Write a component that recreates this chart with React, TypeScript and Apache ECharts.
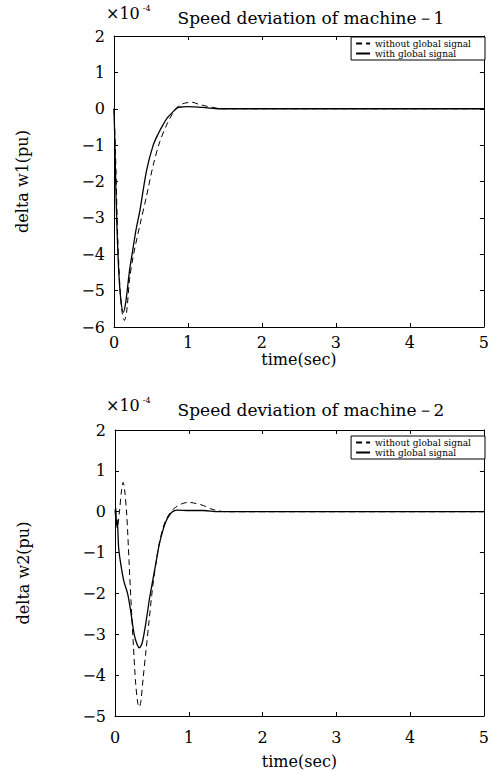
import React, { useEffect, useRef } from "react";
import * as echarts from "echarts";

// Machine 1 (top chart)
const t1Without = [0, 0.02, 0.05, 0.08, 0.11, 0.14, 0.17, 0.21, 0.26, 0.35, 0.44, 0.53, 0.62, 0.71, 0.79, 0.88, 0.97, 1.05, 1.15, 1.25, 1.33, 1.45, 2, 3, 4, 5];
const w1Without = [0, -1.2, -3.5, -4.9, -5.6, -5.82, -5.6, -4.7, -4.05, -3.2, -2.4, -1.55, -0.9, -0.45, -0.14, 0.09, 0.16, 0.18, 0.12, 0.07, 0.04, 0, 0, 0, 0, 0];
const t1With = [0, 0.01, 0.03, 0.06, 0.09, 0.125, 0.16, 0.21, 0.26, 0.3, 0.35, 0.44, 0.53, 0.6, 0.66, 0.72, 0.79, 0.86, 0.93, 1.0, 1.1, 1.2, 1.3, 1.4, 2, 3, 4, 5];
const w1With = [0, -0.8, -2.6, -4.3, -5.2, -5.6, -5.3, -4.45, -3.8, -3.3, -2.8, -1.7, -1.0, -0.68, -0.45, -0.25, -0.1, 0.03, 0.05, 0.06, 0.05, 0.04, 0.02, 0, 0, 0, 0, 0];

// Machine 2 (bottom chart)
const t2Without = [0, 0.03, 0.06, 0.09, 0.11, 0.13, 0.16, 0.19, 0.22, 0.25, 0.28, 0.31, 0.33, 0.35, 0.38, 0.42, 0.46, 0.51, 0.56, 0.6, 0.65, 0.69, 0.75, 0.8, 0.9, 1.0, 1.1, 1.2, 1.3, 1.4, 1.5, 2, 3, 4, 5];
const w2Without = [0, -0.4, 0, 0.55, 0.72, 0.55, -0.1, -1.2, -2.3, -3.3, -4.2, -4.7, -4.78, -4.65, -4.1, -3.4, -2.7, -1.85, -1.2, -0.77, -0.4, -0.2, -0.02, 0.08, 0.19, 0.23, 0.2, 0.15, 0.07, 0.02, 0, 0, 0, 0, 0];
const t2With = [0, 0.01, 0.02, 0.03, 0.05, 0.08, 0.12, 0.17, 0.21, 0.26, 0.3, 0.33, 0.37, 0.42, 0.47, 0.51, 0.56, 0.6, 0.65, 0.69, 0.75, 0.8, 0.84, 1.0, 1.2, 1.4, 2, 3, 4, 5];
const w2With = [0, 0.1, -0.3, -0.2, -0.9, -1.3, -1.7, -2.0, -2.4, -3.0, -3.25, -3.33, -3.2, -2.7, -2.1, -1.7, -1.2, -0.8, -0.45, -0.24, -0.05, 0.02, 0.04, 0.03, 0.03, 0, 0, 0, 0, 0];

const xTicks = [0, 1, 2, 3, 4, 5];
const titles = ["Speed deviation of machine\uFF0D1", "Speed deviation of machine\uFF0D2"];
const yNames = ["delta w1(pu)", "delta w2(pu)"];
const seriesNames = ["without global signal", "with global signal"];

const FONT = "DejaVu Serif";

const zip = (xs: number[], ys: number[]) => xs.map((x, i) => [x, ys[i]]);
const fmt = (v: number) => (v < 0 ? "\u2212" + Math.abs(v) : String(v));

export default function App() {
  const ref = useRef<HTMLDivElement>(null);
  useEffect(() => {
    if (!ref.current) return;
    const chart = echarts.init(ref.current, null, { renderer: "svg" });
    const grids = [
      { left: 114, right: 6, top: 36, height: 291 },
      { left: 115, right: 6, top: 430, height: 287 },
    ];
    const yRanges = [
      [-6, 2],
      [-5, 2],
    ];
    const xLabelMargin = [7, 13];
    const xNameGap = [24, 37];
    const xAxes: any[] = [];
    const yAxes: any[] = [];
    const lineS = { show: true, onZero: false, lineStyle: { color: "#000", width: 1 } };
    const tickS = { show: true, inside: true, length: 4, lineStyle: { color: "#000" } };
    grids.forEach((_, g) => {
      xAxes.push({
        type: "value",
        gridIndex: g,
        min: xTicks[0],
        max: xTicks[xTicks.length - 1],
        interval: 1,
        name: "time(sec)",
        nameLocation: "middle",
        nameGap: xNameGap[g],
        nameTextStyle: { fontFamily: FONT, fontSize: 16, color: "#000" },
        axisLine: lineS,
        axisTick: tickS,
        axisLabel: { fontFamily: FONT, fontSize: 16, color: "#000", margin: xLabelMargin[g] },
        splitLine: { show: false },
      });
      xAxes.push({
        type: "value",
        gridIndex: g,
        position: "top",
        min: xTicks[0],
        max: xTicks[xTicks.length - 1],
        interval: 1,
        axisLine: lineS,
        axisTick: tickS,
        axisLabel: { show: false },
        splitLine: { show: false },
      });
      yAxes.push({
        type: "value",
        gridIndex: g,
        min: yRanges[g][0],
        max: yRanges[g][1],
        interval: 1,
        name: yNames[g],
        nameLocation: "middle",
        nameGap: 84,
        nameRotate: 90,
        nameTextStyle: { fontFamily: FONT, fontSize: 16, color: "#000" },
        axisLine: lineS,
        axisTick: tickS,
        axisLabel: { fontFamily: FONT, fontSize: 16, color: "#000", margin: 9, formatter: fmt },
        splitLine: { show: false },
      });
      yAxes.push({
        type: "value",
        gridIndex: g,
        position: "right",
        min: yRanges[g][0],
        max: yRanges[g][1],
        interval: 1,
        axisLine: lineS,
        axisTick: tickS,
        axisLabel: { show: false },
        splitLine: { show: false },
      });
    });

    const mkSeries = (name: string, data: number[][], g: number, dashed: boolean) => ({
      type: "line",
      name,
      xAxisIndex: g * 2,
      yAxisIndex: g * 2,
      data,
      smooth: 0.3,
      symbol: "none",
      showSymbol: false,
      lineStyle: { color: "#000", width: dashed ? 1 : 1.3, type: dashed ? [6, 4] : "solid" },
      itemStyle: { color: "#000" },
    });

    const legendCommon = {
      orient: "vertical",
      right: 7,
      data: seriesNames,
      itemWidth: 14,
      itemHeight: 8,
      itemGap: 1,
      padding: [2, 14, 2, 4],
      borderColor: "#000",
      borderWidth: 1,
      backgroundColor: "#fff",
      selectedMode: false,
      itemStyle: { opacity: 0 },
      textStyle: { fontFamily: FONT, fontSize: 9, color: "#000" },
    };

    const expLabel = (y: number) => ({
      type: "text",
      left: 106,
      top: y,
      style: {
        text: "{b|\u00D710}{s|-4}",
        rich: {
          b: { fontFamily: FONT, fontSize: 16, fill: "#000", color: "#000" },
          s: { fontFamily: FONT, fontSize: 8, fill: "#000", color: "#000", padding: [0, 0, 10, 3] },
        },
      },
    });

    chart.setOption({
      animation: false,
      backgroundColor: "#fff",
      title: [
        { text: titles[0], left: 306, top: 4, textAlign: "center", textStyle: { fontFamily: FONT, fontSize: 17, fontWeight: "normal", color: "#000" } },
        { text: titles[1], left: 306, top: 396, textAlign: "center", textStyle: { fontFamily: FONT, fontSize: 17, fontWeight: "normal", color: "#000" } },
      ],
      grid: grids,
      xAxis: xAxes,
      yAxis: yAxes,
      legend: [
        { ...legendCommon, top: 37 },
        { ...legendCommon, top: 436 },
      ],
      series: [
        mkSeries(seriesNames[0], zip(t1Without, w1Without), 0, true),
        mkSeries(seriesNames[1], zip(t1With, w1With), 0, false),
        mkSeries(seriesNames[0], zip(t2Without, w2Without), 1, true),
        mkSeries(seriesNames[1], zip(t2With, w2With), 1, false),
      ],
      graphic: [expLabel(4), expLabel(396)],
    });
    return () => chart.dispose();
  }, []);
  return <div ref={ref} style={{ position: "fixed", left: 0, top: 0, width: 492, height: 770 }} />;
}
